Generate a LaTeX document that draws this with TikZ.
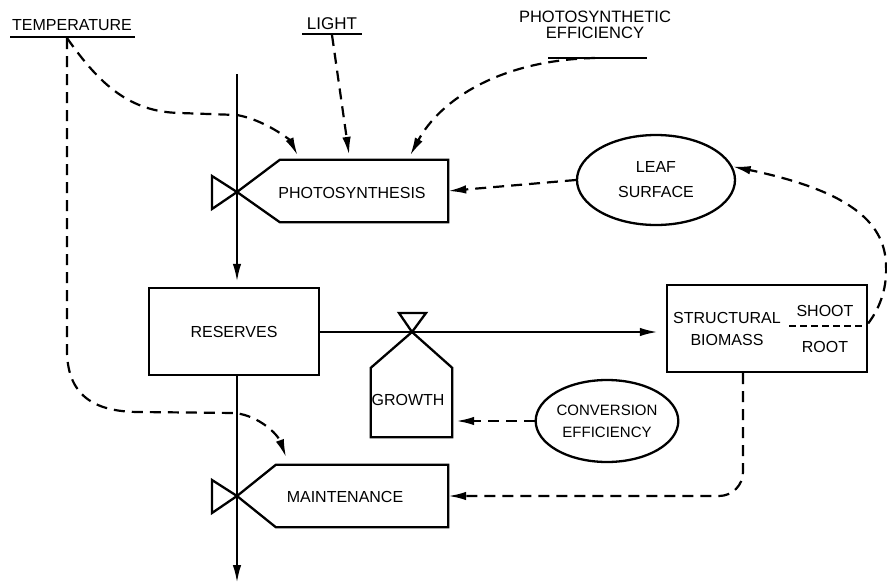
\documentclass[tikz,border=0pt]{standalone}
\usepackage{fontspec}
\setmainfont{Liberation Sans}
\usetikzlibrary{arrows.meta,shapes.geometric}
\begin{document}
\begin{tikzpicture}[x=1pt,y=-1pt,
  ln/.style={line width=2.3pt},
  dsh/.style={line width=2.2pt, dash pattern=on 11pt off 7pt},
  tip/.style={-{Latex[length=18pt,width=8.5pt]}},
  txt/.style={font=\fontsize{16}{17}\selectfont, inner sep=0pt},
  boxn/.style={rectangle, inner sep=0pt, draw=none},
  ell/.style={ellipse, draw, line width=2.3pt, inner sep=0pt, align=center},
]
\useasboundingbox[fill=white] (0,0) rectangle (887,584);

% labels
\node[txt] (temp) at (72,25) {TEMPERATURE};
\draw[ln] (10,37) -- (135,37);
\coordinate (tempu) at (67,38);
\node[txt, font=\fontsize{17}{18}\selectfont] (light) at (332,24) {LIGHT};
\draw[ln] (302,34) -- (362,34);
\coordinate (lightu) at (332,35);
\node[txt, align=center, font=\fontsize{16.5}{16}\selectfont] (pe) at (595,25) {PHOTOSYNTHETIC\\EFFICIENCY};
\draw[ln] (548,58) -- (647,58);
\coordinate (peu) at (595,58);

% photosynthesis
\node[boxn, minimum width=168pt, minimum height=62pt] (photo) at (364,191) {};
\coordinate (pv) at (237,192);
\draw[ln] (pv) -- (photo.north west) -- (photo.north east) -- (photo.south east) -- (photo.south west) -- cycle;
\draw[ln] (pv) -- (212,176) -- (212,209) -- cycle;
\node[txt] (phototxt) at (352,193) {PHOTOSYNTHESIS};

% reserves
\node[boxn, draw, ln, minimum width=170pt, minimum height=87pt, txt] (res) at (234,331.5) {RESERVES};

% main vertical line
\coordinate (top) at (237,74);
\draw[ln, tip, shorten >=5pt] (top) -- (pv |- res.north);

% maintenance
\node[boxn, minimum width=172pt, minimum height=62pt] (maint) at (362,496) {};
\coordinate (mv) at (237,496);
\draw[ln] (mv) -- (maint.north west) -- (maint.north east) -- (maint.south east) -- (maint.south west) -- cycle;
\draw[ln] (mv) -- (212,480) -- (212,513) -- cycle;
\node[txt] (mainttxt) at (345,497) {MAINTENANCE};
\coordinate (bot) at (237,583);
\draw[ln, tip] (pv |- res.south) -- (bot);

% growth
\coordinate (gv) at (412,332);
\node[boxn, minimum width=81pt, minimum height=69pt] (growth) at (411.5,402.5) {};
\draw[ln] (gv) -- (growth.north west) -- (growth.south west) -- (growth.south east) -- (growth.north east) -- cycle;
\draw[ln] (gv) -- (399,313) -- (426,313) -- cycle;
\node[txt] (growthtxt) at (408,400) {GROWTH};

% structural biomass
\node[boxn, draw, ln, minimum width=200pt, minimum height=87pt] (bio) at (767,328.5) {};
\node[txt, align=center, font=\fontsize{16}{22}\selectfont] (biotxt) at (727,329) {STRUCTURAL\\BIOMASS};
\node[txt] (shoot) at (825,311) {SHOOT};
\node[txt] (root) at (825,347) {ROOT};
\draw[line width=1.8pt, dash pattern=on 7pt off 4pt] ([xshift=-79pt,yshift=2.5pt]bio.east) -- ([xshift=-6pt,yshift=2.5pt]bio.east);

\draw[ln, tip, shorten >=8pt] (res.east |- gv) -- (bio.west |- gv);

% ellipses
\node[ell, minimum width=158pt, minimum height=90pt, font=\fontsize{16}{25}\selectfont] (leaf) at (656,180) {LEAF\\SURFACE};
\node[ell, minimum width=140pt, minimum height=82pt, font=\fontsize{15}{22}\selectfont] (conv) at (607,421) {CONVERSION\\EFFICIENCY};

% dashed connectors
\draw[dsh, tip] (leaf.west) -- (photo.east);
\draw[dsh, tip, shorten >=4pt] (conv.west) -- (conv.west -| growth.east);
\draw[dsh, tip, rounded corners=24pt] ([xshift=-24pt]bio.south) |- (maint.east);
\draw[dsh, tip] ([yshift=5pt]bio.east) .. controls (882,305) and (887,285) .. (886,265)
   .. controls (885,220) and (845,190) .. (leaf.10);

\draw[dsh, tip, shorten >=5pt] (tempu) .. controls (100,85) and (130,112) .. (180,113) -- (237,115)
   .. controls (265,120) and (290,140) .. ([xshift=20pt]photo.north west);
\draw[dsh, tip, shorten >=5pt] (lightu) -- ([xshift=70pt]photo.north west);
\draw[dsh, tip, shorten >=5pt] (peu) .. controls (500,60) and (440,100) .. ([xshift=128pt]photo.north west);
\draw[dsh, tip, shorten >=8pt] (tempu) -- (67,350) .. controls (67,400) and (100,412) .. (140,412) -- (235,413)
   .. controls (260,416) and (278,435) .. ([xshift=13pt]maint.north west);
\end{tikzpicture}
\end{document}
